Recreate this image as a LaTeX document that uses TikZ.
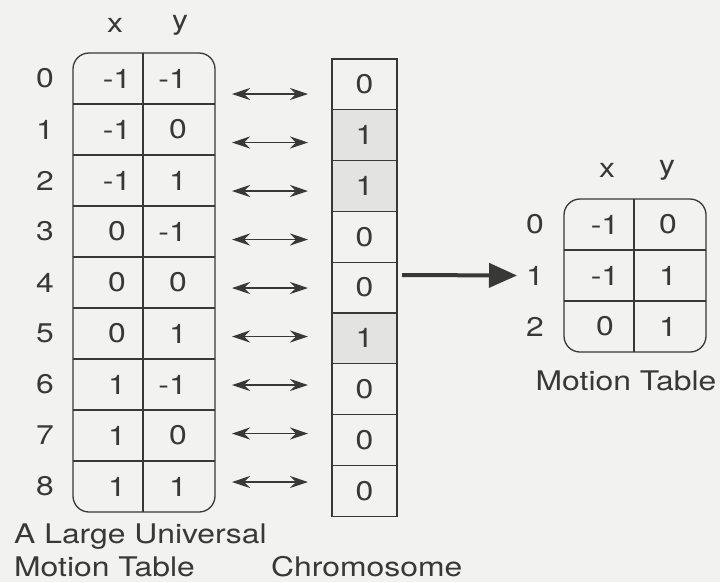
\documentclass[tikz,border=0pt]{standalone}
\usepackage{fontspec}
\setmainfont{TeX Gyre Heros}[FakeStretch=1.18]
\usetikzlibrary{arrows.meta}
\definecolor{bg}{HTML}{F2F2F0}
\definecolor{ink}{HTML}{383838}
\definecolor{one}{HTML}{E3E3E1}
\tikzset{
  tnum/.style={text=ink,font=\fontsize{27}{30}\selectfont,inner sep=0pt},
  lbl/.style={text=ink,font=\fontsize{27}{30}\selectfont,inner sep=0pt},
  gridline/.style={draw=ink,line width=1.3pt},
  chrcell/.style={draw=ink,line width=1.3pt,minimum width=65pt,minimum height=50.8pt,inner sep=0pt,text=ink,font=\fontsize{27}{30}\selectfont},
  dbl/.style={ink,line width=1.3pt,{Stealth[length=18pt,width=12pt,inset=6pt]}-{Stealth[length=18pt,width=12pt,inset=6pt]}},
  bigarrow/.style={ink,line width=4pt,-{Triangle[length=28pt,width=24pt]}}
}
\begin{document}
\begin{tikzpicture}[x=1pt,y=-1pt]
\fill[bg] (0,0) rectangle (720,582);
\useasboundingbox (0,0) rectangle (720,582);
% ---------- big table ----------
\node[tnum] (bhx) at (115,25) {x};
\node[tnum] (bhy) at (180,25) {y};
\draw[gridline,rounded corners=16pt] (73,53) rectangle (215,512);
\foreach \i in {1,...,8}{\draw[gridline] (73,53+51*\i) -- (215,53+51*\i);}
\draw[gridline] (143,53) -- (143,512);
\foreach \i/\a/\b in {0/-1/-1,1/-1/0,2/-1/1,3/0/-1,4/0/0,5/0/1,6/1/-1,7/1/0,8/1/1}{
  \node[tnum] (bl\i) at (45,{53+51*(\i+0.5)}) {\i};
  \node[tnum] (bx\i) at (117,{53+51*(\i+0.5)}) {\a};
  \node[tnum,anchor=east] (by\i) at (187,{53+51*(\i+0.5)}) {\b};
}
% ---------- chromosome ----------
\foreach \i/\v in {0/0,1/1,2/1,3/0,4/0,5/1,6/0,7/0,8/0}{
  \ifnum\v=1
    \node[chrcell,fill=one] (c\i) at (364.5,{59+50.8*(\i+0.5)}) {\v};
  \else
    \node[chrcell] (c\i) at (364.5,{59+50.8*(\i+0.5)}) {\v};
  \fi
}
% ---------- double arrows ----------
\foreach \i in {0,...,8}{
  \coordinate (al\i) at (232,{94+48.5*\i});
  \coordinate (ar\i) at (308,{94+48.5*\i});
  \draw[dbl] (al\i) -- (ar\i);
}
% ---------- small table ----------
\node[tnum] (shx) at (607,170) {x};
\node[tnum] (shy) at (667,170) {y};
\draw[gridline,rounded corners=16pt] (564,199) rectangle (706,352);
\draw[gridline] (564,250) -- (706,250);
\draw[gridline] (564,301) -- (706,301);
\draw[gridline] (634,199) -- (634,352);
\foreach \i/\a/\b in {0/-1/0,1/-1/1,2/0/1}{
  \node[tnum] (sl\i) at (535,{199+51*(\i+0.5)}) {\i};
  \node[tnum] (sx\i) at (605,{199+51*(\i+0.5)}) {\a};
  \node[tnum] (sy\i) at (668,{199+51*(\i+0.5)}) {\b};
}
% ---------- big arrow ----------
\coordinate (bigstart) at (402,275);
\draw[bigarrow] (bigstart) -- (sl1.west -| 517,0);
% ---------- labels ----------
\node[lbl,anchor=west] (lab1) at (14,537) {A Large Universal};
\node[lbl,anchor=west] (lab2) at (14,567) {Motion Table};
\node[lbl,anchor=west] (lab3) at (271,567) {Chromosome};
\node[lbl] (lab4) at (626,381) {Motion Table};
\end{tikzpicture}
\end{document}
